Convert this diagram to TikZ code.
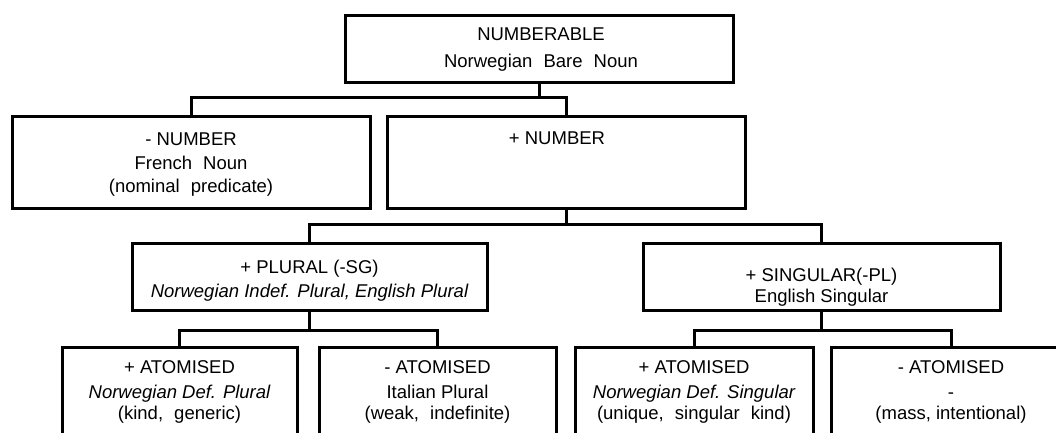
\documentclass[tikz,border=0pt]{standalone}
\usepackage{fontspec}
\setmainfont{Liberation Sans}
\newcommand\wsp{\hspace{0.6em}}
\begin{document}
\begin{tikzpicture}[x=1pt,y=-1pt,
  box/.style={draw, line width=3pt, rectangle, inner sep=0pt, outer sep=0pt},
  lbl/.style={anchor=base, inner sep=0pt, font=\fontsize{18.5}{22}\selectfont},
  conn/.style={line width=3pt}]
\useasboundingbox (0,0) rectangle (1056,432);
\clip (0,0) rectangle (1056,432);
% boxes
\node[box, minimum width=388pt, minimum height=67pt] (top) at (539,48.5) {};
\node[box, minimum width=358pt, minimum height=92pt] (nneg) at (191,162) {};
\node[box, minimum width=358pt, minimum height=92pt] (npos) at (566,162) {};
\node[box, minimum width=355pt, minimum height=67pt] (plural) at (309.5,276.5) {};
\node[box, minimum width=357pt, minimum height=67pt] (sing) at (821.5,276.5) {};
\node[box, minimum width=235pt, minimum height=98pt] (a1) at (179.5,396) {};
\node[box, minimum width=237pt, minimum height=98pt] (a2) at (437.5,396) {};
\node[box, minimum width=238pt, minimum height=98pt] (a3) at (694,396) {};
\node[box, minimum width=240pt, minimum height=98pt] (a4) at (951,396) {};
% junction levels
\coordinate (j1) at (0,97);
\coordinate (j2) at (0,224);
\coordinate (j3) at (0,330);
% connectors
\draw[conn] (top.south) -- (top.south |- j1);
\draw[conn] (nneg.north) |- (npos.north |- j1) -- (npos.north);
\draw[conn] (npos.south) -- (npos.south |- j2);
\draw[conn] (plural.north) |- (sing.north |- j2) -- (sing.north);
\draw[conn] (plural.south) -- (plural.south |- j3);
\draw[conn] (a1.north) |- (a2.north |- j3) -- (a2.north);
\draw[conn] (sing.south) -- (sing.south |- j3);
\draw[conn] (a3.north) |- (a4.north |- j3) -- (a4.north);
% texts
\node[lbl] (t1) at (541,40) {NUMBERABLE};
\node[lbl] (t2) at (541,67) {Norwegian\wsp Bare\wsp Noun};
\node[lbl] (t3) at (191,145) {- NUMBER};
\node[lbl] (t4) at (191,169) {French\wsp Noun};
\node[lbl] (t5) at (191,192) {(nominal\wsp predicate)};
\node[lbl] (t6) at (557,144) {+ NUMBER};
\node[lbl] (t7) at (309.5,273) {+ PLURAL (-SG)};
\node[lbl] (t8) at (309.5,297) {\itshape Norwegian Indef. Plural, English Plural};
\node[lbl] (t9) at (821.5,281) {+ SINGULAR(-PL)};
\node[lbl] (t10) at (821.5,302) {English Singular};
\node[lbl] (t11) at (179.5,373) {+ ATOMISED};
\node[lbl] (t12) at (179.5,398) {\itshape Norwegian Def. Plural};
\node[lbl] (t13) at (179.5,419) {(kind,\wsp generic)};
\node[lbl] (t14) at (437.5,373) {- ATOMISED};
\node[lbl] (t15) at (437.5,398) {Italian Plural};
\node[lbl] (t16) at (437.5,419) {(weak,\wsp indefinite)};
\node[lbl] (t17) at (694,373) {+ ATOMISED};
\node[lbl] (t18) at (694,398) {\itshape Norwegian Def. Singular};
\node[lbl] (t19) at (694,419) {(unique,\wsp singular\wsp kind)};
\node[lbl] (t20) at (951,373) {- ATOMISED};
\node[lbl] (t21) at (951,398) {-};
\node[lbl] (t22) at (951,419) {(mass, intentional)};
\end{tikzpicture}
\end{document}
